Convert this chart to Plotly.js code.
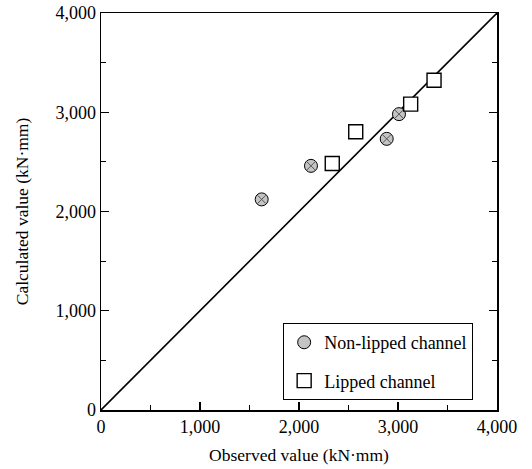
<!DOCTYPE html>
<html>
<head>
<meta charset="utf-8">
<script src="https://cdn.plot.ly/plotly-3.0.1.min.js"></script>
<style>html,body{margin:0;padding:0;background:#fff;}#chart{width:532px;height:469px;}</style>
</head>
<body>
<div id="chart"></div>
<script>
const nonLippedObserved = [1623, 2121, 2886, 3010];
const nonLippedCalculated = [2122, 2460, 2732, 2981];
const lippedObserved = [2336, 2573, 3128, 3364];
const lippedCalculated = [2484, 2803, 3082, 3323];
const lineX = [0, 4000];
const lineY = [0, 4000];
const tickVals = [0, 1000, 2000, 3000, 4000];
const tickText = ['0', '1,000', '2,000', '3,000', '4,000'];

const serif = "'Liberation Serif', 'Times New Roman', serif";

const traces = [
  {x: lineX, y: lineY, mode: 'lines', line: {color: '#000', width: 1.6}, showlegend: false, hoverinfo: 'skip'},
  {x: nonLippedObserved, y: nonLippedCalculated, mode: 'markers', name: 'Non-lipped channel',
   legendgroup: 'a',
   marker: {symbol: 'circle', size: 13, color: '#c4c4c4', line: {color: '#000', width: 1}}},
  {x: nonLippedObserved, y: nonLippedCalculated, mode: 'markers', showlegend: false, hoverinfo: 'skip',
   marker: {symbol: 'x-thin', size: 8, color: '#555', line: {color: '#555', width: 1}}},
  {x: lippedObserved, y: lippedCalculated, mode: 'markers', name: 'Lipped channel',
   legendgroup: 'b',
   marker: {symbol: 'square', size: 14, color: '#fff', line: {color: '#000', width: 1.4}}}
];

const axisCommon = {
  range: [0, 4000], tickvals: tickVals, ticktext: tickText,
  ticks: 'inside', ticklen: 8, tickwidth: 1.2, tickcolor: '#000',
  showline: true, linecolor: '#000', linewidth: 1.5,
  showgrid: false, zeroline: false,
  tickfont: {family: serif, size: 18, color: '#000'},
  minor: {dtick: 500, ticks: 'inside', ticklen: 5, tickwidth: 1, tickcolor: '#000', showgrid: false},
  fixedrange: true
};

const layout = {
  width: 532, height: 469,
  margin: {l: 101, r: 35, t: 13, b: 59},
  paper_bgcolor: '#fff', plot_bgcolor: '#fff',
  showlegend: true,
  xaxis: Object.assign({}, axisCommon, {
    mirror: true,
    title: {text: 'Observed value (kN·mm)', font: {family: serif, size: 17.5, color: '#000'}, standoff: 12}
  }),
  yaxis: Object.assign({}, axisCommon, {
    mirror: 'ticks',
    title: {text: 'Calculated value (kN·mm)', font: {family: serif, size: 17.5, color: '#000'}, standoff: 22}
  }),
  legend: {
    x: 0.46, y: 0.219, xanchor: 'left', yanchor: 'top',
    bgcolor: '#fff', bordercolor: '#000', borderwidth: 1,
    font: {family: serif, size: 18, color: '#000'},
    traceorder: 'grouped', tracegroupgap: 12,
    itemwidth: 30
  }
};

Plotly.newPlot('chart', traces, layout, {displayModeBar: false, staticPlot: true});
</script>
</body>
</html>
